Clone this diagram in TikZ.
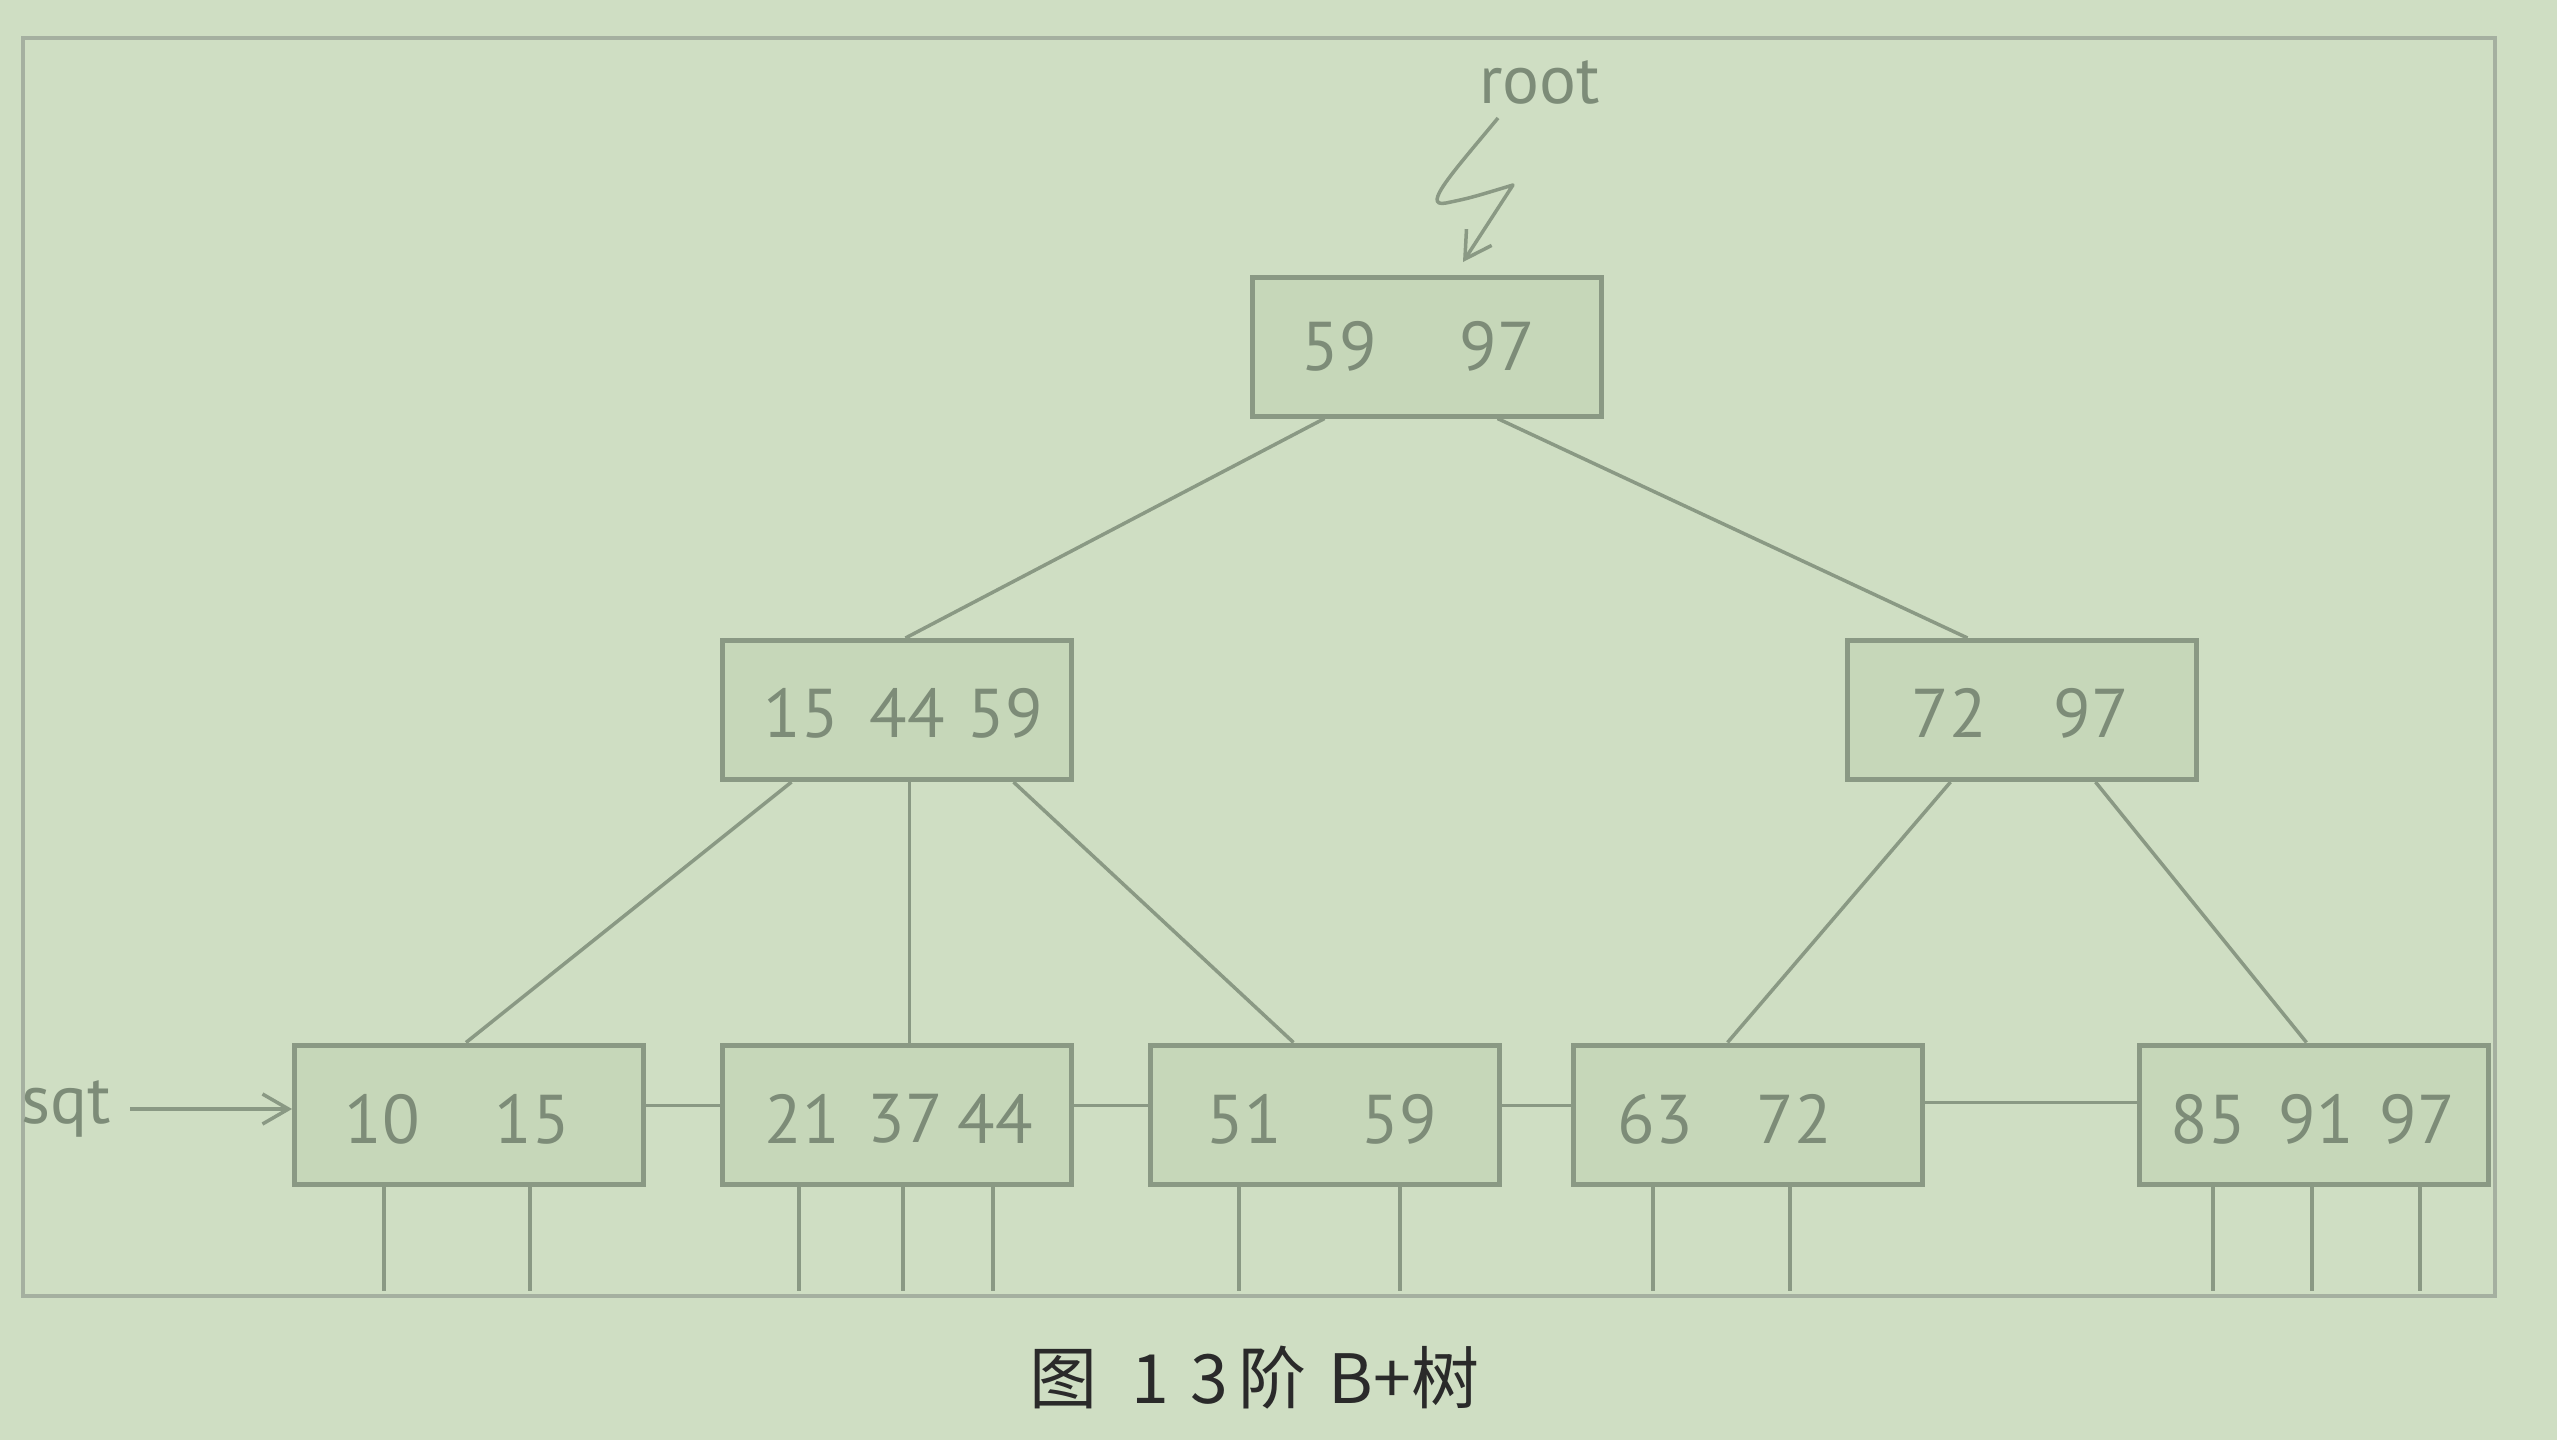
\documentclass[tikz,border=0pt]{standalone}
\usepackage{fontspec}
\setmainfont{PT Sans}
\newfontfamily\cjk{Noto Sans CJK SC}
\usetikzlibrary{arrows.meta}
\definecolor{bg}{HTML}{CFDEC3}
\definecolor{boxfill}{HTML}{C6D7B9}
\definecolor{ln}{HTML}{8A9984}
\definecolor{frm}{HTML}{A5B0A0}
\definecolor{txt}{HTML}{7D8C78}
\definecolor{cap}{HTML}{2A2A2A}
\begin{document}
\begin{tikzpicture}[x=1pt,y=-1pt,
  keybox/.style={draw=ln, fill=boxfill, line width=5pt, minimum width=349pt, minimum height=139pt, inner sep=0pt},
  num/.style={text=txt, font=\fontsize{69}{69}\selectfont, inner sep=0pt},
  link/.style={draw=ln, line width=3.5pt},
  ptr/.style={draw=ln, line width=4pt},
  barb/.style={-{Straight Barb[length=26pt,width=30pt,line width=3.5pt]}},
]
\fill[bg] (0,0) rectangle (2557,1440);
\useasboundingbox (0,0) rectangle (2557,1440);
\draw[frm, line width=4.5pt] (23,38) rectangle (2495,1296);

% boxes
\node[keybox] (root) at (1426.5,346.5) {};
\node[keybox] (n1) at (896.5,710) {};
\node[keybox] (n2) at (2021.5,710) {};
\node[keybox] (l1) at (469,1114.5) {};
\node[keybox] (l2) at (896.5,1114.5) {};
\node[keybox] (l3) at (1324.5,1114.5) {};
\node[keybox] (l4) at (1747.5,1114.5) {};
\node[keybox] (l5) at (2313.5,1114.5) {};

% keys
\node[num] (r59) at (1339,346) {59};
\node[num] (r97) at (1497,346) {97};
\node[num] (a15) at (801,713) {15};
\node[num] (a44) at (907,713) {44};
\node[num] (a59) at (1005,713) {59};
\node[num] (b72) at (1949,713) {72};
\node[num] (b97) at (2091,713) {97};
\node[num] (c10) at (382,1119) {10};
\node[num] (c15) at (532,1119) {15};
\node[num] (d21) at (802,1119) {21};
\node[num] (d37) at (905,1119) {37};
\node[num] (d44) at (995,1119) {44};
\node[num] (e51) at (1244,1119) {51};
\node[num] (e59) at (1399,1119) {59};
\node[num] (f63) at (1655,1119) {63};
\node[num] (f72) at (1794,1119) {72};
\node[num] (g85) at (2208,1119) {85};
\node[num] (g91) at (2316,1119) {91};
\node[num] (g97) at (2417,1119) {97};

% tree edges
\draw[link] ([xshift=75pt]root.south west) -- ([xshift=186pt]n1.north west);
\draw[link] ([xshift=248pt]root.south west) -- ([xshift=123pt]n2.north west);
\draw[link] ([xshift=72pt]n1.south west) -- ([xshift=174pt]l1.north west);
\draw[link] ([xshift=190pt]n1.south west) -- ([xshift=190pt]l2.north west);
\draw[link] ([xshift=294pt]n1.south west) -- ([xshift=146pt]l3.north west);
\draw[link] ([xshift=106pt]n2.south west) -- ([xshift=157pt]l4.north west);
\draw[link] ([xshift=251pt]n2.south west) -- ([xshift=170pt]l5.north west);

% leaf links
\draw[link] ([yshift=9pt]l1.east) -- ([yshift=9pt]l2.west);
\draw[link] ([yshift=9pt]l2.east) -- ([yshift=9pt]l3.west);
\draw[link] ([yshift=9pt]l3.east) -- ([yshift=9pt]l4.west);
\draw[link] ([yshift=12pt]l4.east) -- ([yshift=12pt]l5.west);

% record pointers
\foreach \b/\o in {l1/92,l1/238,l2/79,l2/183,l2/273,l3/91,l3/252,l4/82,l4/219,l5/76,l5/175,l5/283}
  \draw[ptr] ([xshift=\o pt]\b.south west) -- ++(0,104);

% root pointer
\node[num, anchor=base west] (rootlbl) at (1479,103) {root};
\coordinate (rs) at (1498,118);
\coordinate (rt) at (1463,262);
\draw[link, barb, line join=round] (rs) .. controls (1455,170) and (1420,208) .. (1446,203) .. controls (1470,198) .. (1513,185) -- (rt);

% sqt pointer
\node[num, anchor=base west] (sqt) at (21,1123) {sqt};
\coordinate (ss) at (130,1109);
\draw[link, barb] (ss) -- ([yshift=5.5pt]l1.west);

% caption
\node[text=cap, font=\cjk\fontsize{68}{68}\selectfont, inner sep=0pt, anchor=west] (caption) at (1029,1378) {图\hspace{34pt}1\hspace{22pt}3\hspace{10pt}阶\hspace{22pt}B+树};
\end{tikzpicture}
\end{document}
